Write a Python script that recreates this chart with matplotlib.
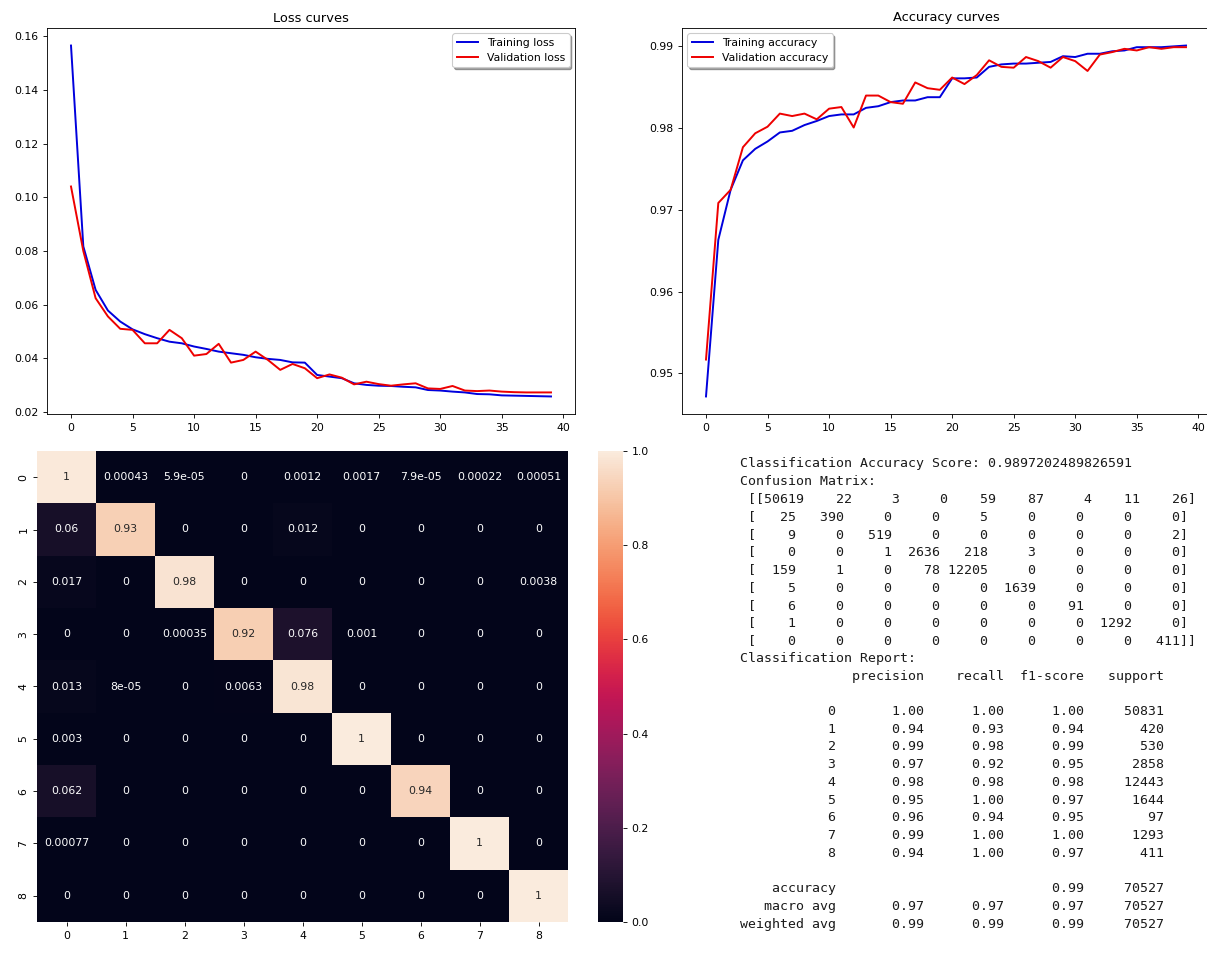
import numpy as np
import matplotlib
matplotlib.use("Agg")
import matplotlib.pyplot as plt
import seaborn as sns

# ---------------- data ----------------
epochs = list(range(40))
train_loss = [0.1565, 0.0817, 0.0655, 0.0578, 0.0537, 0.0508, 0.0490, 0.0475, 0.0462, 0.0456,
              0.0444, 0.0435, 0.0425, 0.0419, 0.0413, 0.0404, 0.0398, 0.0394, 0.0385, 0.0384,
              0.0338, 0.0332, 0.0326, 0.0307, 0.0301, 0.0298, 0.0297, 0.0294, 0.0292, 0.0282,
              0.0280, 0.0276, 0.0273, 0.0267, 0.0266, 0.0262, 0.0261, 0.0260, 0.0259, 0.0258]
val_loss = [0.1040, 0.0800, 0.0624, 0.0556, 0.0510, 0.0506, 0.0456, 0.0456, 0.0506, 0.0475,
            0.0410, 0.0416, 0.0454, 0.0384, 0.0394, 0.0425, 0.0394, 0.0357, 0.0379, 0.0363,
            0.0326, 0.0340, 0.0328, 0.0303, 0.0313, 0.0304, 0.0298, 0.0303, 0.0307, 0.0288,
            0.0286, 0.0297, 0.0280, 0.0278, 0.0280, 0.0276, 0.0274, 0.0273, 0.0273, 0.0273]
train_acc = [0.9472, 0.9663, 0.9724, 0.9760, 0.9774, 0.9783, 0.9794, 0.9796, 0.9803, 0.9808,
             0.9814, 0.9816, 0.9816, 0.9824, 0.9826, 0.9831, 0.9833, 0.9833, 0.9837, 0.9837,
             0.9860, 0.9860, 0.9861, 0.9874, 0.9877, 0.9878, 0.9878, 0.9879, 0.9880, 0.9887,
             0.9886, 0.9890, 0.9890, 0.9893, 0.9894, 0.9898, 0.9898, 0.9898, 0.9899, 0.9900]
val_acc = [0.9517, 0.9708, 0.9724, 0.9776, 0.9793, 0.9801, 0.9817, 0.9814, 0.9817, 0.9810,
           0.9823, 0.9825, 0.9800, 0.9839, 0.9839, 0.9831, 0.9829, 0.9855, 0.9848, 0.9846,
           0.9861, 0.9853, 0.9864, 0.9882, 0.9874, 0.9873, 0.9886, 0.9881, 0.9873, 0.9886,
           0.9881, 0.9869, 0.9889, 0.9892, 0.9896, 0.9894, 0.9898, 0.9896, 0.9898, 0.9898]

classes = ["0", "1", "2", "3", "4", "5", "6", "7", "8"]
conf_counts = np.array([
    [50619, 22, 3, 0, 59, 87, 4, 11, 26],
    [25, 390, 0, 0, 5, 0, 0, 0, 0],
    [9, 0, 519, 0, 0, 0, 0, 0, 2],
    [0, 0, 1, 2636, 218, 3, 0, 0, 0],
    [159, 1, 0, 78, 12205, 0, 0, 0, 0],
    [5, 0, 0, 0, 0, 1639, 0, 0, 0],
    [6, 0, 0, 0, 0, 0, 91, 0, 0],
    [1, 0, 0, 0, 0, 0, 0, 1292, 0],
    [0, 0, 0, 0, 0, 0, 0, 0, 411],
])
accuracy_score = "0.9897202489826591"
precision = [1.00, 0.94, 0.99, 0.97, 0.98, 0.95, 0.96, 0.99, 0.94]
recall = [1.00, 0.93, 0.98, 0.92, 0.98, 1.00, 0.94, 1.00, 1.00]
f1 = [1.00, 0.94, 0.99, 0.95, 0.98, 0.97, 0.95, 1.00, 0.97]
support = [50831, 420, 530, 2858, 12443, 1644, 97, 1293, 411]
acc_f1, total = 0.99, 70527
macro = [0.97, 0.97, 0.97]
weighted = [0.99, 0.99, 0.99]

# ---------------- figure ----------------
W, H, DPI = 1207, 958, 78
fig = plt.figure(figsize=(W / DPI, H / DPI), dpi=DPI)
plt.rcParams["xtick.major.pad"] = 4.5
plt.rcParams["ytick.major.pad"] = 4.5


def box(l, t, r, b):
    return [l / W, 1 - b / H, (r - l) / W, (b - t) / H]


# Loss curves
ax1 = fig.add_axes(box(47, 28, 575, 414))
ax1.plot(epochs, train_loss, color="#0000dd", lw=1.8, label="Training loss")
ax1.plot(epochs, val_loss, color="#ee0000", lw=1.8, label="Validation loss")
ax1.set_title("Loss curves")
ax1.legend(loc="upper right", shadow=True)

# Accuracy curves
ax2 = fig.add_axes(box(682, 28, 1210, 414))
ax2.plot(epochs, train_acc, color="#0000dd", lw=1.8, label="Training accuracy")
ax2.plot(epochs, val_acc, color="#ee0000", lw=1.8, label="Validation accuracy")
ax2.set_title("Accuracy curves")
ax2.legend(loc="upper left", shadow=True)

# Heatmap of normalised confusion matrix
norm_cm = conf_counts / conf_counts.sum(axis=1, keepdims=True)
ax3 = fig.add_axes(box(37, 451, 568, 922))
cax = fig.add_axes(box(598, 451, 623, 922))
sns.heatmap(norm_cm, annot=True, fmt=".2g", cmap="rocket", vmin=0, vmax=1,
            ax=ax3, cbar_ax=cax, xticklabels=classes, yticklabels=classes)
ax3.set_yticklabels(classes, rotation=90, va="center")
ax3.set_xticklabels(classes, rotation=0)

# Text report
lines = ["Classification Accuracy Score: " + accuracy_score, "Confusion Matrix:"]
mat_lines = str(conf_counts).split("\n")
mat_lines[0] = " " + mat_lines[0]
lines += mat_lines
lines.append("Classification Report:")
lines.append(" " * 12 + " " + " {:>9}".format("precision") + " {:>9}".format("recall")
             + " {:>9}".format("f1-score") + " {:>9}".format("support"))
lines.append("")
for c, p, r, f, s in zip(classes, precision, recall, f1, support):
    lines.append("{:>12s} ".format(c) + " {:>9.2f}".format(p) + " {:>9.2f}".format(r)
                 + " {:>9.2f}".format(f) + " {:>9}".format(s))
lines.append("")
lines.append("{:>12s} ".format("accuracy") + " {:>9}".format("") + " {:>9}".format("")
             + " {:>9.2f}".format(acc_f1) + " {:>9}".format(total))
lines.append("{:>12s} ".format("macro avg") + "".join(" {:>9.2f}".format(v) for v in macro)
             + " {:>9}".format(total))
lines.append("{:>12s} ".format("weighted avg") + "".join(" {:>9.2f}".format(v) for v in weighted)
             + " {:>9}".format(total))

y0, dy = 463.3, 17.73
for i, ln in enumerate(lines):
    fig.text(740 / W, 1 - (y0 + i * dy) / H, ln, family="DejaVu Sans Mono",
             fontsize=12.2, va="center", ha="left", color="#1a1a1a")

fig.savefig("out.png", dpi=DPI)
